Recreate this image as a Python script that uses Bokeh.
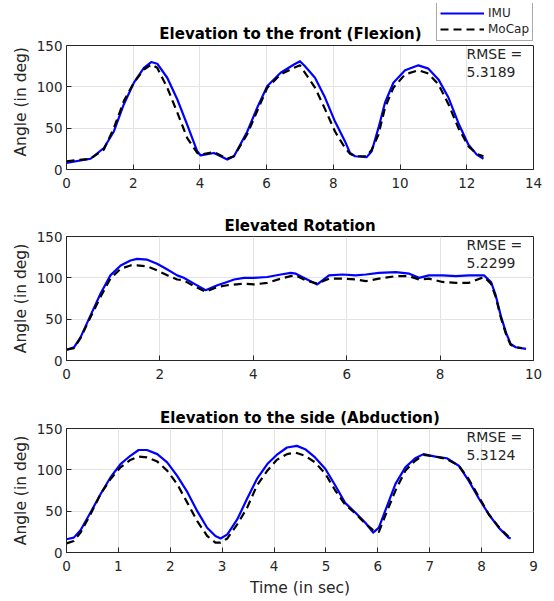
from bokeh.plotting import figure
from bokeh.layouts import column
from bokeh.models import Range1d, FixedTicker, Legend, LegendItem, Label, LinearAxis, Span, Title
from bokeh.embed import file_html
from bokeh.resources import INLINE

# ---------------- data ----------------
titles = ["Elevation to the front (Flexion)", "Elevated Rotation", "Elevation to the side (Abduction)"]
rmse_values = ["5.3189", "5.2299", "5.3124"]
legend_labels = ["IMU", "MoCap"]
y_label = "Angle (in deg)"
x_label = "Time (in sec)"
x_max = [14, 10, 9]
x_ticks = [[0, 2, 4, 6, 8, 10, 12, 14], [0, 2, 4, 6, 8, 10], [0, 1, 2, 3, 4, 5, 6, 7, 8, 9]]
y_ticks = [0, 50, 100, 150]

flex_t_imu = [0, 0.72, 1.12, 1.42, 1.72, 2.02, 2.32, 2.54, 2.72, 3.02, 3.32, 3.62, 3.92, 4.02, 4.42,
              4.82, 5.02, 5.42, 5.72, 6.02, 6.42, 6.82, 7.0, 7.15, 7.45, 7.75, 8.05, 8.35, 8.5, 8.65,
              9.0, 9.15, 9.35, 9.55, 9.8, 10.15, 10.55, 10.85, 11.15, 11.45, 11.75, 12.05, 12.3, 12.5]
flex_imu = [8, 13, 26, 46, 79, 105, 123, 130, 128, 111, 85, 54, 22, 17, 20,
            12, 16, 46, 75, 101, 117, 127, 131, 125, 111, 87, 58, 34, 20, 16,
            15, 22, 50, 81, 105, 120, 126, 122, 109, 87, 56, 30, 18, 13]
flex_t_mocap = [0, 0.72, 1.12, 1.42, 1.72, 2.02, 2.32, 2.54, 2.72, 3.02, 3.32, 3.62, 3.92, 4.02, 4.42,
                4.82, 5.02, 5.42, 5.72, 6.02, 6.42, 6.82, 7.0, 7.15, 7.45, 7.75, 8.05, 8.35, 8.5, 8.65,
                9.0, 9.15, 9.35, 9.55, 9.8, 10.15, 10.55, 10.85, 11.15, 11.45, 11.75, 12.05, 12.3, 12.5]
flex_mocap = [10, 13, 24, 50, 83, 105, 121, 127, 123, 99, 69, 38, 20, 18, 21,
              13, 16, 43, 71, 99, 115, 123, 126, 117, 99, 73, 46, 26, 19, 16,
              16, 24, 42, 75, 99, 115, 120, 116, 103, 79, 50, 28, 19, 16]

rot_t_imu = [0, 0.16, 0.3, 0.51, 0.73, 0.94, 1.16, 1.37, 1.51, 1.73, 1.94, 2.16, 2.37, 2.51, 2.73,
             2.98, 3.23, 3.44, 3.59, 3.8, 4.01, 4.3, 4.59, 4.8, 4.91, 5.12, 5.37, 5.62, 5.91, 6.19,
             6.41, 6.69, 7.05, 7.34, 7.55, 7.76, 8.05, 8.34, 8.62, 8.94, 9.09, 9.19, 9.3, 9.41,
             9.51, 9.62, 9.84]
rot_imu = [13, 16, 28, 54, 81, 103, 115, 121, 123, 122, 117, 110, 103, 100, 93,
           85, 91, 95, 98, 100, 100, 101, 104, 106, 105, 99, 92, 103, 104, 103,
           104, 106, 107, 105, 100, 103, 103, 102, 103, 103, 95, 79, 54, 34,
           20, 16, 14]
rot_t_mocap = [0, 0.16, 0.3, 0.51, 0.73, 0.94, 1.16, 1.37, 1.51, 1.73, 1.94, 2.16, 2.37, 2.51, 2.73,
               2.98, 3.23, 3.44, 3.8, 4.01, 4.3, 4.59, 4.8, 4.91, 5.12, 5.37, 5.62, 5.91, 6.19,
               6.41, 6.69, 7.05, 7.34, 7.55, 7.76, 8.05, 8.34, 8.62, 8.94, 9.09, 9.19, 9.3, 9.41,
               9.51, 9.62, 9.75]
rot_mocap = [13, 15, 27, 52, 77, 99, 111, 115, 115, 114, 109, 103, 98, 97, 90,
             83, 89, 91, 93, 92, 94, 99, 102, 103, 97, 93, 99, 99, 98,
             96, 99, 102, 102, 98, 99, 95, 94, 94, 101, 93, 77, 52, 32,
             19, 16, 15]

abd_t_imu = [0, 0.14, 0.27, 0.46, 0.66, 0.85, 1.04, 1.23, 1.39, 1.55, 1.75, 1.94, 2.13, 2.33, 2.52,
             2.71, 2.87, 2.97, 3.1, 3.29, 3.48, 3.67, 3.87, 4.05, 4.25, 4.44, 4.6, 4.79, 4.99, 5.18,
             5.37, 5.57, 5.76, 5.91, 6.02, 6.14, 6.34, 6.53, 6.72, 6.88, 7.11, 7.33, 7.56, 7.75,
             7.95, 8.14, 8.33, 8.52, 8.56]
abd_imu = [16, 18, 27, 48, 71, 91, 107, 117, 124, 124, 119, 109, 93, 73, 50,
           30, 20, 17, 22, 40, 65, 89, 107, 118, 127, 129, 125, 115, 101, 81,
           60, 48, 36, 24, 30, 50, 83, 103, 114, 119, 116, 114, 105, 87,
           65, 46, 30, 18, 17]
abd_t_mocap = [0, 0.14, 0.27, 0.46, 0.66, 0.85, 1.04, 1.23, 1.39, 1.55, 1.75, 1.94, 2.13, 2.33, 2.52,
               2.71, 2.87, 2.97, 3.1, 3.29, 3.48, 3.67, 3.87, 4.05, 4.25, 4.41, 4.6, 4.79, 4.99, 5.18,
               5.37, 5.57, 5.76, 5.91, 6.02, 6.14, 6.34, 6.53, 6.72, 6.88, 7.11, 7.33, 7.56, 7.75,
               7.95, 8.14, 8.33, 8.52]
abd_mocap = [11, 14, 24, 46, 71, 89, 103, 112, 116, 115, 110, 99, 83, 60, 38,
             20, 12, 12, 17, 34, 54, 81, 99, 112, 119, 121, 117, 109, 95, 75,
             58, 47, 35, 27, 25, 44, 75, 99, 111, 118, 116, 113, 105, 89,
             67, 46, 31, 19]

series = [
    (flex_t_imu, flex_imu, flex_t_mocap, flex_mocap),
    (rot_t_imu, rot_imu, rot_t_mocap, rot_mocap),
    (abd_t_imu, abd_imu, abd_t_mocap, abd_mocap),
]

# ---------------- styling ----------------
FONT = "DejaVu Sans"
AX = "#262626"
GRID = "#e3e3e3"
IMU_STYLE = dict(line_color="#0000ff", line_width=2.2, line_join="round")
MOC_STYLE = dict(line_color="black", line_width=2.2, line_dash="8 5", line_join="round")

FRAME_H = 124
EXTRA_TOP = 42          # first panel: room above the axes box for title + legend
borders = [(3, 37), (30, 38), (30, 49)]
y_min, y_max = y_ticks[0], y_ticks[-1]

figs = []
for i in range(3):
    top, bottom = borders[i]
    first = (i == 0)
    fh = FRAME_H + (EXTRA_TOP if first else 0)
    y_end = y_max + (EXTRA_TOP * (y_max - y_min) / FRAME_H if first else 0)
    p = figure(frame_width=467, frame_height=fh,
               min_border_left=66, min_border_right=21,
               min_border_top=top, min_border_bottom=bottom,
               x_range=Range1d(0, x_max[i]), y_range=Range1d(y_min, y_end),
               output_backend="svg", toolbar_location=None,
               background_fill_color="white", border_fill_color="white")
    if not first:
        p.title.text = titles[i]
        p.title.align = "center"
        p.title.text_font = FONT
        p.title.text_font_size = "15px"
        p.title.text_font_style = "bold"
        p.title.text_color = "black"
        p.title.standoff = 3
        p.outline_line_color = AX
        p.outline_line_width = 1
        p.outline_line_alpha = 1
    else:
        p.title = None
        p.outline_line_color = None

    for ax in (p.xaxis[0], p.yaxis[0]):
        ax.axis_line_color = AX
        ax.major_tick_line_color = AX
        ax.major_tick_in = 5
        ax.major_tick_out = 0
        ax.minor_tick_line_color = None
        ax.major_label_text_font = FONT
        ax.major_label_text_font_size = "13.5px"
        ax.major_label_text_color = AX
        ax.axis_label_text_font = FONT
        ax.axis_label_text_font_size = "15.5px"
        ax.axis_label_text_font_style = "normal"
        ax.axis_label_text_color = AX
    p.xaxis.ticker = FixedTicker(ticks=x_ticks[i])
    p.yaxis.ticker = FixedTicker(ticks=y_ticks)
    p.xaxis.major_label_standoff = 8
    p.yaxis.major_label_standoff = 4
    if not first:
        p.yaxis.axis_label = y_label
        p.yaxis.axis_label_standoff = 4
    if i == 2:
        p.xaxis.axis_label = x_label
        p.xaxis.axis_label_standoff = 5

    p.xgrid.ticker = FixedTicker(ticks=x_ticks[i])
    p.ygrid.ticker = FixedTicker(ticks=y_ticks)
    p.xgrid.grid_line_color = GRID
    p.ygrid.grid_line_color = GRID

    if first:
        # close the axes box: left/right sides only up to the top tick, top side as a span
        p.yaxis.bounds = (y_min, y_max)
        p.add_layout(LinearAxis(ticker=FixedTicker(ticks=[]), bounds=(y_min, y_max),
                                axis_line_color=AX, major_tick_line_color=None,
                                minor_tick_line_color=None), "right")
        p.xgrid.cross_bounds = (y_min, y_max)
        p.add_layout(Span(location=y_max, dimension="width", line_color=AX, line_width=1))
        # y label aligned with the axes box rather than the taller frame
        p.add_layout(Title(text=y_label, align="left", offset=13, standoff=8,
                           text_font=FONT, text_font_size="15.5px", text_font_style="normal",
                           text_color=AX), "left")

    ti, vi, tm, vm = series[i]
    r_imu = p.line(ti, vi, **IMU_STYLE)
    r_moc = p.line(tm, vm, **MOC_STYLE)

    p.add_layout(Label(x=400, y=116, x_units="screen", y_units="screen",
                       text="RMSE =", text_font=FONT, text_font_size="14px",
                       text_color=AX, text_baseline="middle"))
    p.add_layout(Label(x=400, y=98, x_units="screen", y_units="screen",
                       text=rmse_values[i], text_font=FONT, text_font_size="14px",
                       text_color=AX, text_baseline="middle"))

    if first:
        p.add_layout(Label(x=224, y=136, x_units="screen", y_units="screen",
                           text=titles[0], text_font=FONT, text_font_size="15px",
                           text_font_style="bold", text_color="black",
                           text_align="center", text_baseline="middle"))
        legend = Legend(items=[LegendItem(label=legend_labels[0], renderers=[r_imu]),
                               LegendItem(label=legend_labels[1], renderers=[r_moc])],
                        location=(370, 128), orientation="vertical",
                        label_text_font=FONT, label_text_font_size="12px",
                        label_text_color=AX, glyph_width=44, glyph_height=16,
                        label_height=16, label_standoff=4, spacing=0, padding=3,
                        margin=0, border_line_color="#555555", border_line_width=1,
                        background_fill_color="white", background_fill_alpha=1)
        p.add_layout(legend, "center")
    figs.append(p)

layout = column(*figs, spacing=0)
open("out.html", "w").write(file_html(layout, INLINE))
